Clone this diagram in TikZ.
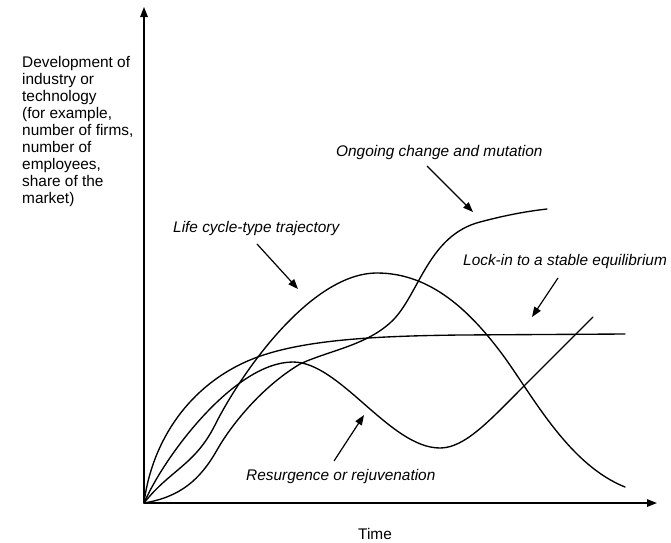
\documentclass[tikz,border=0pt]{standalone}
\usepackage{fontspec}
\setmainfont{Liberation Sans}
\usetikzlibrary{arrows.meta}
\begin{document}
\begin{tikzpicture}[x=1pt,y=-1pt,
  curve/.style={line width=1.35pt, line join=round, line cap=round},
  axis/.style={line width=1.4pt, -{Triangle[length=10pt,width=7.5pt]}},
  pointer/.style={line width=1.2pt, -{Triangle[length=10pt,width=7.5pt]}},
  lbl/.style={font=\fontsize{15.4}{17}\selectfont\itshape, inner sep=0pt, anchor=west},
  plain/.style={font=\fontsize{15.4}{17}\selectfont, inner sep=0pt},
]
\useasboundingbox (0,0) rectangle (671,542);
% axes
\coordinate (O) at (144,503);
\coordinate (ytip) at (144,7);
\coordinate (xtip) at (657,503);
\draw[axis] (O) -- (ytip);
\draw[axis] (O) -- (xtip);

% axis labels
\node[plain, align=left, anchor=north west] (ylabel) at (22,56)
  {Development of\\industry or\\technology\\(for example,\\number of firms,\\number of\\employees,\\share of the\\market)};
\node[plain] (time) at (375,534) {Time};

% curves
% lock-in
\draw[curve] (O) .. controls (152,440) and (190,385) .. (250,360)
  .. controls (300,339) and (380,336) .. (460,335) -- (625,334);
% resurgence / rejuvenation
\draw[curve] (O) .. controls (165,455) and (235,362) .. (293,362)
  .. controls (340,362) and (390,448) .. (440,448)
  .. controls (465,448) and (490,420) .. (523,387) -- (593,317);
% life cycle
\draw[curve] (O) .. controls (170,470) and (195,465) .. (215,425)
  .. controls (240,375) and (310,273) .. (377,273)
  .. controls (430,273) and (470,310) .. (505,358)
  .. controls (535,400) and (570,465) .. (625,487);
% ongoing change
\draw[curve] (O) .. controls (180,497) and (200,480) .. (217,450)
  .. controls (230,427) and (260,388) .. (300,364)
  .. controls (330,350) and (370,345) .. (395,318)
  .. controls (420,290) and (430,235) .. (480,222)
  .. controls (510,214) and (530,211) .. (547,209);

% labels
\node[lbl] (ongoing) at (336,153) {Ongoing change and mutation};
\node[lbl] (life) at (173,229) {Life cycle-type trajectory};
\node[lbl] (lockin) at (463,262) {Lock-in to a stable equilibrium};
\node[lbl] (resurg) at (246,477) {Resurgence or rejuvenation};

% pointers
\coordinate (p1s) at (427,166); \coordinate (p1e) at (473,212);
\coordinate (p2s) at (257,244); \coordinate (p2e) at (298,289);
\coordinate (p3s) at (558,278); \coordinate (p3e) at (532,317);
\coordinate (p4s) at (334,461); \coordinate (p4e) at (364,415);
\draw[pointer] (p1s) -- (p1e);
\draw[pointer] (p2s) -- (p2e);
\draw[pointer] (p3s) -- (p3e);
\draw[pointer] (p4s) -- (p4e);
\end{tikzpicture}
\end{document}
